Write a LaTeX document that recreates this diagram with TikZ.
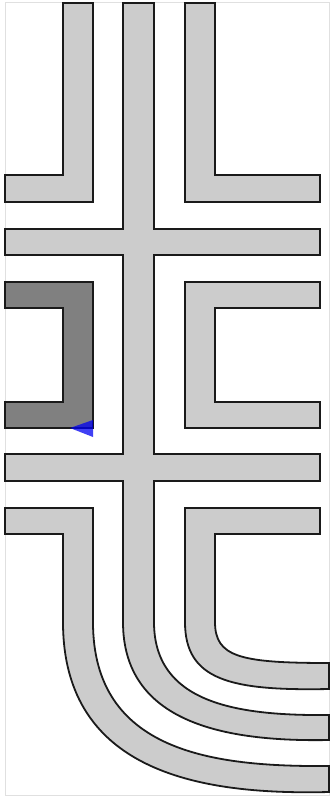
\documentclass[tikz,border=0pt]{standalone}
\usepackage{xcolor}
\definecolor{wallgray}{RGB}{204, 204, 204}
\definecolor{activegray}{RGB}{128, 128, 128}
\definecolor{edgeblack}{RGB}{26, 26, 26}
\definecolor{framegray}{RGB}{224, 224, 224}
\definecolor{markerblue}{RGB}{0, 0, 240}
\usepackage{tikz}
\tikzset{
    wall/.style={fill=wallgray, draw=edgeblack, line width=1.8pt, line join=miter},
    activewall/.style={wall, fill=activegray},
}

\begin{document}
\begin{tikzpicture}[x=1pt, y=-1pt]
    \useasboundingbox (0,0) rectangle (330,797);
    \draw[framegray, line width=1pt] (5,3) rectangle (329,795);
    % upper corners
    \draw[wall] (63,3) -- (93,3) -- (93,202) -- (5,202) -- (5,175) -- (63,175) -- cycle;
    \draw[wall] (185,3) -- (215,3) -- (215,175) -- (320,175) -- (320,202) -- (185,202) -- cycle;
    % spine with two cross bars and curved tail
    \draw[wall] (123,3) -- (154,3) -- (154,229) -- (320,229) -- (320,255) -- (154,255)
        -- (154,454) -- (320,454) -- (320,481) -- (154,481) -- (154,622)
        .. controls (154,702) and (234,716) .. (329,715) -- (329,740)
        .. controls (223,742) and (123,722) .. (123,622)
        -- (123,481) -- (5,481) -- (5,454) -- (123,454) -- (123,255)
        -- (5,255) -- (5,229) -- (123,229) -- cycle;
    % middle brackets
    \draw[activewall] (5,282) -- (93,282) -- (93,428) -- (5,428) -- (5,402) -- (63,402) -- (63,308) -- (5,308) -- cycle;
    \draw[wall] (185,282) -- (320,282) -- (320,308) -- (215,308) -- (215,402) -- (320,402) -- (320,428) -- (185,428) -- cycle;
    % lower bends
    \draw[wall] (5,508) -- (93,508) -- (93,622)
        .. controls (93,752) and (213,767) .. (329,766) -- (329,792)
        .. controls (206,795) and (63,775) .. (63,622)
        -- (63,534) -- (5,534) -- cycle;
    \draw[wall] (185,508) -- (320,508) -- (320,534) -- (215,534) -- (215,622)
        .. controls (215,657) and (240,663) .. (329,663) -- (329,689)
        .. controls (230,691) and (185,680) .. (185,622) -- cycle;
    % marker
    \fill[markerblue, opacity=0.75] (70,428) -- (93,420) -- (93,437) -- cycle;
\end{tikzpicture}
\end{document}
